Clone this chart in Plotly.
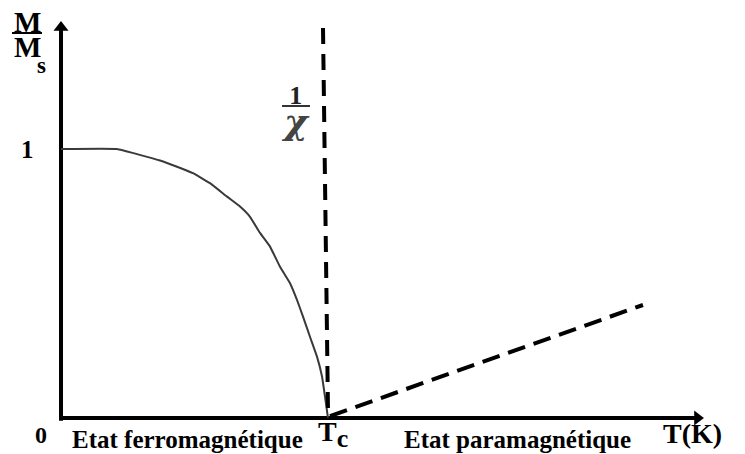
import plotly.graph_objects as go

# Reduced magnetisation M/Ms in the ferromagnetic state (T in arbitrary units)
T_ferro = [0.0, 0.845, 1.147, 1.494, 1.751, 1.992, 2.249, 2.506, 2.702, 2.853,
           3.004, 3.155, 3.306, 3.457, 3.562, 3.653, 3.758, 3.864, 3.940, 3.985, 4.03]
M_ferro = [1.0, 1.0, 0.981, 0.957, 0.934, 0.910, 0.873, 0.823, 0.786, 0.748,
           0.688, 0.637, 0.562, 0.501, 0.439, 0.377, 0.302, 0.228, 0.154, 0.079, 0.0]

# Curie temperature and the 1/chi branches
Tc = 4.03
T_vert = [3.955, Tc]
Y_vert = [1.45, 0.03]
T_para = [4.06, 8.785]
Y_para = [0.007, 0.42]

# Axis extents (tips of the arrows)
x_tip = 9.72
y_tip = 1.48

W, H = 745, 454
X_RANGE = [-0.921, 10.325]
Y_RANGE = [-0.134, 1.554]
PX_X = W / (X_RANGE[1] - X_RANGE[0])   # pixels per T unit
PX_Y = H / (Y_RANGE[1] - Y_RANGE[0])   # pixels per M/Ms unit

SERIF = "Liberation Serif, Times New Roman, serif"
HEAD = 13          # arrowhead marker size
HEAD_OFF = 7.5     # distance from marker centre to its tip, pixels


def P(px, py):
    """Pixel position -> paper coordinates (plot area spans the whole page)."""
    return px / W, 1 - py / H


fig = go.Figure()

# Axes with filled arrowheads
fig.add_trace(go.Scatter(
    x=[0, 0], y=[-0.01, y_tip - HEAD_OFF / PX_Y], mode="lines",
    line=dict(color="black", width=4), hoverinfo="skip", showlegend=False))
fig.add_trace(go.Scatter(
    x=[-0.01, x_tip - HEAD_OFF / PX_X], y=[0, 0], mode="lines",
    line=dict(color="black", width=4), hoverinfo="skip", showlegend=False))
fig.add_trace(go.Scatter(
    x=[0], y=[y_tip - HEAD_OFF / PX_Y], mode="markers",
    marker=dict(symbol="triangle-up", size=HEAD, color="black", line=dict(width=0)),
    hoverinfo="skip", showlegend=False))
fig.add_trace(go.Scatter(
    x=[x_tip - HEAD_OFF / PX_X], y=[0], mode="markers",
    marker=dict(symbol="triangle-right", size=HEAD, color="black", line=dict(width=0)),
    hoverinfo="skip", showlegend=False))

fig.add_trace(go.Scatter(
    x=T_ferro, y=M_ferro, mode="lines",
    line=dict(color="#3a3a3a", width=2, shape="spline", smoothing=0.3),
    hoverinfo="skip", showlegend=False))

fig.add_trace(go.Scatter(
    x=T_vert, y=Y_vert, mode="lines",
    line=dict(color="black", width=4, dash="16px,10px"),
    hoverinfo="skip", showlegend=False))

fig.add_trace(go.Scatter(
    x=T_para, y=Y_para, mode="lines",
    line=dict(color="black", width=4, dash="18px,9px"),
    hoverinfo="skip", showlegend=False))

annotations = []


def label(text, px, py, size, color="black", family=SERIF):
    x, y = P(px, py)
    annotations.append(dict(x=x, y=y, xref="paper", yref="paper", text=text,
                            showarrow=False, xanchor="center", yanchor="middle",
                            font=dict(family=family, size=size, color=color)))


def big(text, size, extra=""):
    return '<span style="font-size:%dpx%s">%s</span>' % (size, extra, text)


# Tick labels
label("<b>1</b>", 28, 149, 25)
label("<b>0</b>", 41, 435, 24)

# Y-axis title M / Ms (stacked, line pitch set by the base font size)
label("<b>" + big("M", 29) + "<br>" + big("M", 29) + "</b>", 27, 34, 19.5)
label("<b>s</b>", 41, 65, 23)

# 1/chi label
label("<b>" + big("1", 26) + "<br>"
      + big("<i>χ</i>", 36, ";font-family:'DejaVu Serif';color:#444") + "</b>",
      295, 111, 23, color="#222")

# Bottom labels
label("<b>Etat ferromagnétique</b>", 187, 439, 25)
label("<b>T<sub>" + big("c", 26) + "</sub></b>", 333, 434, 28)
label("<b>Etat paramagnétique</b>", 517, 439, 25)
label("<b>T(K)</b>", 692, 433, 28)

shapes = [
    # fraction bars
    dict(type="line", xref="paper", yref="paper",
         x0=P(12, 0)[0], x1=P(42, 0)[0], y0=P(0, 33)[1], y1=P(0, 33)[1],
         line=dict(color="black", width=2)),
    dict(type="line", xref="paper", yref="paper",
         x0=P(282, 0)[0], x1=P(310, 0)[0], y0=P(0, 106)[1], y1=P(0, 106)[1],
         line=dict(color="#333", width=2)),
]

fig.update_layout(
    width=W, height=H, autosize=False,
    margin=dict(l=0, r=0, t=0, b=0),
    paper_bgcolor="white", plot_bgcolor="white",
    xaxis=dict(range=X_RANGE, visible=False, fixedrange=True),
    yaxis=dict(range=Y_RANGE, visible=False, fixedrange=True),
    annotations=annotations, shapes=shapes,
    showlegend=False,
)

fig.write_html("out.html")
